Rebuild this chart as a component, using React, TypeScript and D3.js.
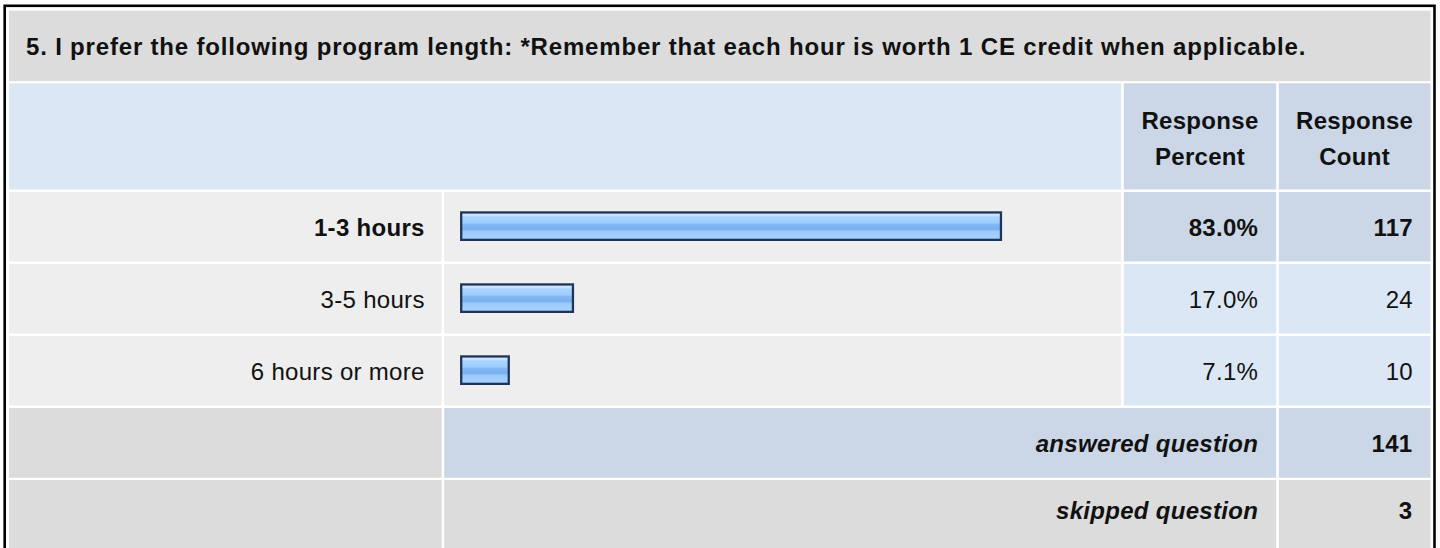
import React, {useEffect, useRef} from 'react';
import * as d3 from 'd3';

// survey question + results
const questionTitle =
  '5. I prefer the following program length: *Remember that each hour is worth 1 CE credit when applicable.';
const answerOptions = ['1-3 hours', '3-5 hours', '6 hours or more'];
const responsePercents = [83.0, 17.0, 7.1];
const responseCounts = [117, 24, 10];
const headerPercent = ['Response', 'Percent'];
const headerCount = ['Response', 'Count'];
const answeredQuestion = 141;
const skippedQuestion = 3;

const W = 1440;
const H = 548;
const FONT = 'Arial, "Liberation Sans", Helvetica, sans-serif';

// colours
const C_GRAY = '#dcdcdc';
const C_LIGHT = '#dce7f5';
const C_MID = '#cbd7e6';
const C_ROW = '#eeeeee';

export default function App() {
  const svgRef = useRef<SVGSVGElement>(null);

  useEffect(() => {
    if (!svgRef.current) return;
    const svg = d3.select(svgRef.current);
    svg.selectAll('*').remove();

    // column edges (table cells, 2-3px cell spacing)
    const cols = [
      [9, 441.7],
      [444.2, 1121.2],
      [1123.8, 1276.2],
      [1278.8, 1430.5],
    ];
    const rowTop = [10.7, 83.3, 192, 264, 336, 408, 480];
    const rowH = [70.5, 106.2, 69.5, 69.5, 69.5, 69.8, 80];

    // outer frame
    svg
      .append('rect')
      .attr('x', 4.7)
      .attr('y', 5.8)
      .attr('width', 1429.8)
      .attr('height', 600)
      .attr('fill', '#ffffff')
      .attr('stroke', '#000')
      .attr('stroke-width', 2.6);

    const cell = (x0: number, x1: number, r: number, fill: string) =>
      svg
        .append('rect')
        .attr('x', x0)
        .attr('y', rowTop[r])
        .attr('width', x1 - x0)
        .attr('height', rowH[r])
        .attr('fill', fill);

    const text = (
      s: string | number,
      x: number,
      y: number,
      anchor: string,
      weight = 'normal',
      style = 'normal',
      spacing = 0.3,
    ) =>
      svg
        .append('text')
        .attr('x', x)
        .attr('y', y)
        .attr('text-anchor', anchor)
        .attr('font-family', FONT)
        .attr('font-size', 24)
        .attr('font-weight', weight)
        .attr('font-style', style)
        .attr('letter-spacing', spacing)
        .attr('fill', '#111')
        .text(s);

    // title row
    cell(cols[0][0], cols[3][1], 0, C_GRAY);
    text(questionTitle, 26, 55, 'start', 'bold', 'normal', 0.82);

    // header row
    cell(cols[0][0], cols[1][1], 1, C_LIGHT);
    cell(cols[2][0], cols[2][1], 1, C_MID);
    cell(cols[3][0], cols[3][1], 1, C_MID);
    const hc = rowTop[1] + rowH[1] / 2;
    headerPercent.forEach((t, i) =>
      text(t, (cols[2][0] + cols[2][1]) / 2, hc - 7 + i * 35.7, 'middle', 'bold'),
    );
    headerCount.forEach((t, i) =>
      text(t, (cols[3][0] + cols[3][1]) / 2, hc - 7 + i * 35.7, 'middle', 'bold'),
    );

    // bars
    const x = d3.scaleLinear().domain([0, 100]).range([0, 648.5]);
    const barX = 461.2;
    const barH = 27.4;

    const defs = svg.append('defs');
    const grad = defs
      .append('linearGradient')
      .attr('id', 'bar-fill')
      .attr('x1', 0)
      .attr('y1', 0)
      .attr('x2', 0)
      .attr('y2', 1);
    [
      ['0%', '#d4ebff'],
      ['12%', '#c4e2ff'],
      ['16%', '#acd5ff'],
      ['38%', '#9ecdfe'],
      ['44%', '#84b8f4'],
      ['62%', '#7aaff0'],
      ['68%', '#9ac9fc'],
      ['100%', '#a8d3ff'],
    ].forEach(([o, c]) =>
      grad.append('stop').attr('offset', o).attr('stop-color', c),
    );

    answerOptions.forEach((opt, i) => {
      const r = i + 2;
      const first = i === 0;
      cell(cols[0][0], cols[0][1], r, C_ROW);
      cell(cols[1][0], cols[1][1], r, C_ROW);
      cell(cols[2][0], cols[2][1], r, first ? C_MID : C_LIGHT);
      cell(cols[3][0], cols[3][1], r, first ? C_MID : C_LIGHT);
      const cy = rowTop[r] + rowH[r] / 2;
      const w = first ? 'bold' : 'normal';
      text(opt, cols[0][1] - 17, cy + 9.5, 'end', w);

      svg
        .append('rect')
        .attr('x', barX)
        .attr('y', cy - 0.6 - barH / 2)
        .attr('width', x(responsePercents[i]) + 1.5)
        .attr('height', barH)
        .attr('fill', 'url(#bar-fill)')
        .attr('stroke', '#1f3558')
        .attr('stroke-width', 2.3);

      text(`${responsePercents[i].toFixed(1)}%`, cols[2][1] - 18, cy + 9.5, 'end', w);
      text(responseCounts[i], cols[3][1] - 17.5, cy + 9.5, 'end', w);
    });

    // answered / skipped
    cell(cols[0][0], cols[0][1], 5, C_GRAY);
    cell(cols[1][0], cols[2][1], 5, C_MID);
    cell(cols[3][0], cols[3][1], 5, C_MID);
    const ac = rowTop[5] + rowH[5] / 2;
    text('answered question', cols[2][1] - 18, ac + 9, 'end', 'bold', 'italic');
    text(answeredQuestion, cols[3][1] - 18, ac + 9, 'end', 'bold');

    cell(cols[0][0], cols[0][1], 6, C_GRAY);
    cell(cols[1][0], cols[2][1], 6, C_GRAY);
    cell(cols[3][0], cols[3][1], 6, C_GRAY);
    const sb = rowTop[6] + 38.5;
    text('skipped question', cols[2][1] - 18, sb, 'end', 'bold', 'italic');
    text(skippedQuestion, cols[3][1] - 18, sb, 'end', 'bold');
  }, []);

  return (
    <svg
      ref={svgRef}
      width={W}
      height={H}
      style={{position: 'fixed', left: 0, top: 0, display: 'block'}}
    />
  );
}
